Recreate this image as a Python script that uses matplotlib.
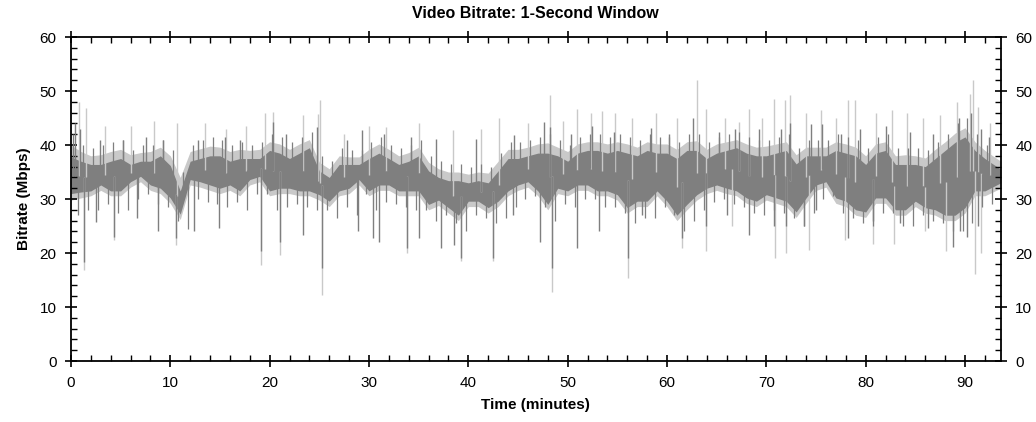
import numpy as np
import matplotlib.pyplot as plt

plt.rcParams['font.family'] = ['Liberation Sans', 'DejaVu Sans']

# tempo (minuti) dei punti dell'inviluppo
minutes = list(range(93)) + [93.6]

# banda scura (bitrate su finestra di 1 s): limite alto e basso per minuto
dark_hi = [37.8, 37.0, 36.4, 36.4, 37.0, 37.5, 36.4, 37.0, 37.0, 38.0,
           36.2, 31.5, 37.0, 37.5, 38.0, 38.0, 37.0, 37.5, 37.5, 37.5,
           39.0, 38.5, 37.5, 38.5, 39.5, 35.2, 34.0, 36.4, 36.4, 36.4,
           37.5, 38.5, 37.5, 36.4, 37.0, 38.0, 35.2, 34.0, 33.4, 33.4,
           33.0, 33.4, 33.0, 35.2, 37.5, 37.5, 38.0, 38.5, 38.5, 38.0,
           37.0, 38.5, 39.0, 39.0, 38.5, 39.0, 38.5, 38.0, 39.0, 38.5,
           38.5, 37.5, 39.0, 39.0, 37.5, 38.5, 39.0, 39.5, 38.5, 38.0,
           38.0, 38.5, 39.0, 36.5, 38.0, 38.0, 38.0, 39.0, 38.5, 38.0,
           36.4, 38.5, 39.0, 36.4, 36.4, 36.4, 36.0, 37.5, 39.0, 40.5,
           41.5, 39.0, 37.5, 35.5]
dark_lo = [31.0, 31.3, 31.5, 32.6, 31.5, 31.5, 33.2, 34.2, 32.6, 32.0,
           30.2, 27.2, 33.6, 33.2, 32.6, 32.0, 32.6, 31.5, 33.6, 34.2,
           31.5, 32.0, 32.0, 31.5, 31.5, 30.8, 29.6, 31.5, 32.0, 33.6,
           31.5, 32.6, 32.6, 31.5, 31.5, 31.5, 29.0, 29.8, 28.4, 27.0,
           29.6, 29.6, 28.4, 29.6, 31.5, 32.6, 33.2, 31.5, 29.0, 32.0,
           31.5, 32.6, 32.6, 31.5, 31.5, 30.8, 28.4, 29.6, 29.6, 31.5,
           29.6, 27.0, 29.0, 30.8, 32.0, 32.6, 32.0, 31.5, 30.2, 29.6,
           30.8, 30.2, 29.6, 27.6, 30.2, 32.6, 33.2, 30.2, 29.6, 28.0,
           27.6, 30.2, 30.2, 28.0, 28.0, 29.6, 28.4, 28.0, 27.0, 27.0,
           28.4, 31.5, 31.5, 33.0]

# banda chiara (picchi): limite alto e basso per minuto
light_hi = [40.0, 38.8, 38.0, 38.2, 38.8, 39.2, 38.2, 38.6, 38.8, 39.6,
            38.0, 34.0, 38.8, 39.3, 39.8, 39.6, 38.8, 39.2, 39.0, 39.2,
            40.6, 40.2, 39.2, 40.2, 41.0, 36.8, 35.6, 38.0, 37.8, 37.8,
            39.2, 40.2, 39.2, 38.0, 38.6, 39.6, 36.8, 35.6, 35.0, 35.0,
            34.6, 35.0, 34.8, 37.0, 39.2, 39.2, 39.6, 40.2, 40.4, 39.6,
            38.8, 40.2, 40.6, 40.6, 40.2, 40.6, 40.2, 39.6, 40.6, 40.2,
            40.2, 39.2, 40.6, 40.8, 39.2, 40.2, 40.6, 41.0, 40.2, 39.6,
            39.8, 40.2, 40.6, 38.2, 39.6, 39.6, 39.6, 40.6, 40.2, 39.6,
            38.0, 40.2, 40.6, 38.0, 38.2, 38.0, 37.6, 39.2, 40.6, 42.2,
            43.2, 40.6, 39.0, 37.0]
light_lo = [29.8, 30.2, 30.6, 31.6, 30.6, 30.6, 32.2, 33.2, 31.6, 31.0,
            29.2, 26.2, 32.6, 32.2, 31.6, 31.0, 31.6, 30.6, 32.6, 33.2,
            30.6, 31.0, 31.0, 30.6, 30.6, 29.8, 28.6, 30.6, 31.0, 32.6,
            30.6, 31.6, 31.6, 30.6, 30.6, 30.6, 28.0, 28.8, 27.4, 26.0,
            28.6, 28.6, 27.4, 28.6, 30.6, 31.6, 32.2, 30.6, 28.0, 31.0,
            30.6, 31.6, 31.6, 30.6, 30.6, 29.8, 27.4, 28.6, 28.6, 30.6,
            28.6, 26.0, 28.0, 29.8, 31.0, 31.6, 31.0, 30.6, 29.2, 28.6,
            29.8, 29.2, 28.6, 26.6, 29.2, 31.6, 32.2, 29.2, 28.6, 27.0,
            26.6, 29.2, 29.2, 27.0, 27.0, 28.6, 27.4, 27.0, 26.0, 26.0,
            27.4, 30.6, 30.6, 32.0]

# escursioni ogni mezzo minuto della serie scura (alto, basso)
swing_up = [42.0, 40.0, 39.5, 40.0, 40.5, 41.0, 39.0, 40.0, 40.0, 41.0,
            39.0, 35.0, 40.0, 41.0, 41.5, 41.0, 40.0, 40.5, 40.0, 40.5,
            42.0, 41.5, 40.5, 41.5, 42.5, 38.0, 37.0, 39.5, 39.0, 39.0,
            40.5, 41.5, 40.0, 39.5, 40.0, 41.0, 38.0, 37.0, 36.5, 36.5,
            36.0, 36.5, 36.0, 38.5, 40.5, 40.5, 41.0, 41.5, 42.0, 41.0,
            40.0, 41.5, 42.0, 42.0, 41.5, 42.0, 41.5, 41.0, 42.0, 41.5,
            41.5, 40.5, 42.0, 42.0, 40.5, 41.5, 42.0, 42.5, 41.5, 41.0,
            41.0, 41.5, 42.0, 39.5, 41.0, 41.0, 41.0, 42.0, 41.5, 41.0,
            39.5, 41.5, 42.0, 39.5, 39.5, 39.5, 39.0, 40.5, 42.0, 44.0,
            45.0, 42.0, 40.0, 38.0]
swing_dn = [27.0, 28.0, 28.0, 29.0, 27.5, 28.0, 30.0, 31.0, 29.0, 28.5,
            26.0, 24.5, 30.0, 29.5, 29.0, 28.5, 29.5, 28.0, 31.0, 31.0,
            28.0, 28.5, 29.0, 28.5, 28.0, 28.0, 26.5, 28.5, 27.0, 31.0,
            28.0, 29.5, 29.0, 28.5, 28.0, 28.0, 26.0, 27.0, 25.5, 24.0,
            27.0, 26.5, 25.5, 26.5, 28.5, 30.0, 30.5, 28.5, 26.0, 29.0,
            28.5, 30.0, 30.0, 28.5, 28.5, 27.5, 25.5, 26.5, 26.5, 28.5,
            27.0, 24.0, 26.0, 28.0, 29.5, 30.0, 29.0, 28.5, 27.5, 27.0,
            28.0, 27.5, 26.5, 25.0, 27.5, 30.0, 30.5, 27.5, 26.5, 25.5,
            25.0, 27.5, 27.5, 25.0, 25.0, 27.0, 26.0, 25.5, 24.0, 24.0,
            25.5, 28.5, 29.0, 31.0]

# picchi isolati della serie scura (minuto, valore)
dark_spike_t = [0.4, 0.9, 1.3, 2.5, 2.9, 4.3, 5.2, 6.6, 7.6, 8.8,
                9.3, 10.6, 12.4, 12.8, 14.9, 15.5, 17.0, 19.1, 20.3, 21.0,
                21.6, 23.4, 24.8, 25.3, 27.8, 28.9, 29.3, 30.4, 31.0, 31.5,
                33.8, 34.2, 35.0, 36.7, 37.2, 38.6, 39.25, 40.8, 42.5, 44.5,
                44.6, 47.2, 47.6, 48.2, 48.4, 50.3, 50.9, 52.4, 53.2, 54.7,
                56.1, 57.5, 58.4, 60.2, 61.5, 62.6, 63.9, 65.2, 66.0, 66.8,
                68.3, 69.3, 70.8, 71.5, 72.0, 72.4, 73.8, 74.5, 75.0, 75.6,
                77.5, 78.2, 79.4, 80.7, 82.0, 83.5, 84.5, 86.3, 86.8, 88.8,
                89.4, 89.5, 90.2, 90.6, 91.3, 91.6, 92.4]
dark_spike_v = [44.0, 43.0, 18.4, 25.8, 41.0, 23.0, 41.0, 26.4, 41.5, 24.0,
                41.0, 22.7, 24.0, 41.0, 24.6, 41.5, 41.0, 20.3, 44.3, 22.0,
                42.0, 23.4, 43.4, 17.2, 41.0, 24.0, 42.8, 22.7, 22.1, 42.0,
                20.9, 41.5, 22.8, 41.2, 21.0, 21.5, 19.1, 41.2, 19.1, 27.0,
                41.8, 22.1, 44.3, 43.4, 17.2, 42.0, 20.9, 43.5, 24.0, 42.5,
                19.1, 27.0, 43.1, 42.0, 22.8, 45.0, 25.0, 42.5, 27.0, 43.0,
                23.4, 43.0, 25.0, 43.0, 25.0, 44.0, 25.0, 43.8, 28.0, 43.8,
                42.0, 22.7, 43.0, 26.0, 43.5, 25.5, 42.5, 24.6, 42.0, 21.2,
                45.0, 24.0, 23.0, 46.0, 25.0, 43.0, 41.5]

# picchi isolati della serie chiara (minuto, valore)
light_spike_t = [0.8, 1.3, 1.5, 3.4, 4.3, 6.0, 8.4, 10.6, 10.7, 13.5,
                 15.6, 17.6, 19.1, 19.5, 20.3, 21.0, 23.4, 24.9, 25.1, 25.3,
                 27.5, 30.0, 31.7, 33.8, 35.0, 38.5, 39.25, 41.3, 42.5, 43.1,
                 46.0, 48.2, 48.4, 49.5, 50.9, 52.3, 53.5, 54.8, 56.1, 56.5,
                 58.9, 61.0, 61.5, 63.0, 63.9, 63.95, 65.8, 66.5, 67.2, 68.3,
                 69.6, 70.8, 70.9, 71.9, 71.95, 72.4, 74.0, 74.3, 75.5, 77.0,
                 77.9, 78.2, 78.9, 80.7, 81.0, 82.6, 82.9, 84.2, 85.8, 86.0,
                 87.5, 88.1, 89.2, 90.5, 90.8, 91.0, 91.3, 91.6, 92.5]
light_spike_v = [48.0, 16.8, 46.8, 43.5, 22.5, 43.5, 44.5, 21.5, 44.0, 44.0,
                 43.0, 43.5, 17.8, 46.0, 46.2, 19.6, 45.5, 45.8, 48.3, 12.2,
                 42.0, 43.5, 43.4, 20.0, 44.0, 42.8, 18.5, 43.0, 18.5, 45.0,
                 44.0, 49.3, 12.8, 44.5, 46.6, 46.0, 46.3, 46.0, 15.4, 45.0,
                 46.0, 45.0, 21.0, 52.0, 46.6, 20.3, 45.0, 25.0, 44.3, 46.6,
                 45.0, 48.6, 19.0, 48.3, 20.0, 49.3, 46.0, 20.6, 46.5, 45.0,
                 22.5, 48.3, 48.3, 21.7, 46.0, 46.5, 21.7, 46.0, 45.0, 24.0,
                 45.5, 20.3, 48.0, 49.5, 52.0, 16.2, 47.0, 20.0, 44.0]

dark_col = '#7f7f7f'
light_col = '#c9c9c9'

fig = plt.figure(figsize=(10.36, 4.22), dpi=100)
ax = fig.add_axes([0.0685, 0.1445, 0.8975, 0.7678])

mid = (np.array(dark_hi) + np.array(dark_lo)) / 2

# banda chiara e picchi chiari
ax.fill_between(minutes, light_lo, light_hi, color=light_col, lw=0)
base_l = np.interp(light_spike_t, minutes, mid)
ax.vlines(light_spike_t, base_l, light_spike_v, color=light_col, lw=1.0)

# banda scura, escursioni e picchi scuri
ax.fill_between(minutes, dark_lo, dark_hi, color=dark_col, lw=0)
t_up = np.arange(94) + 0.25
t_dn = np.arange(94) + 0.75
ax.vlines(t_up[:-1], np.interp(t_up[:-1], minutes, mid), swing_up[:-1],
          color=dark_col, lw=0.9)
ax.vlines(t_dn[:-1], np.interp(t_dn[:-1], minutes, mid), swing_dn[:-1],
          color=dark_col, lw=0.9)
base_d = np.interp(dark_spike_t, minutes, mid)
ax.vlines(dark_spike_t, base_d, dark_spike_v, color=dark_col, lw=1.0)

ax.set_xlim(0, 93.6)
ax.set_ylim(0, 60)
ax.set_xticks(np.arange(0, 91, 10))
ax.set_xticks(np.arange(0, 93.6, 2), minor=True)
ax.set_yticks(np.arange(0, 61, 10))
ax.set_yticks(np.arange(0, 61, 2), minor=True)

ax.tick_params(which='major', direction='inout', length=9, width=1.2,
               labelsize=11, top=True, right=True, labelright=True, pad=6)
ax.tick_params(which='minor', direction='in', length=4, width=1.0,
               top=True, right=True)
for s in ax.spines.values():
    s.set_linewidth(1.3)

ax.set_title("Video Bitrate: 1-Second Window", fontsize=11.5,
             fontweight='bold', pad=14)
ax.set_xlabel("Time (minutes)", fontsize=11, fontweight='bold', labelpad=6)
ax.set_ylabel("Bitrate (Mbps)", fontsize=11, fontweight='bold', labelpad=6)

fig.savefig('out.png', dpi=100)
